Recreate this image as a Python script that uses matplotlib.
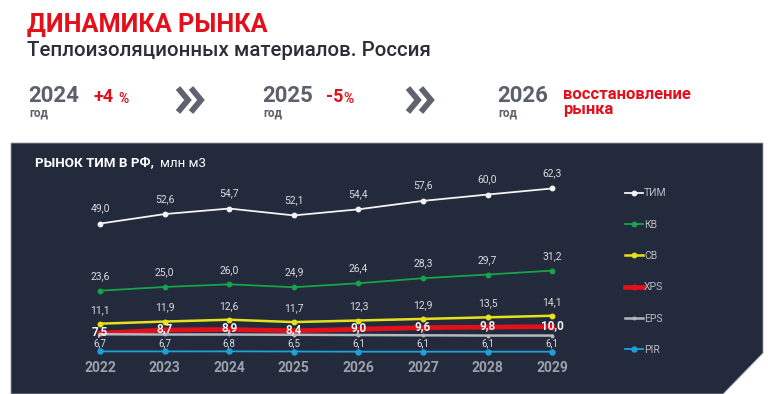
import matplotlib
matplotlib.use("Agg")
import matplotlib.pyplot as plt
from matplotlib.lines import Line2D
from matplotlib.patches import Polygon

plt.rcParams['font.family'] = ['Roboto', 'DejaVu Sans']

# ------------------------------------------------------------------
# data
# ------------------------------------------------------------------
years = [2022, 2023, 2024, 2025, 2026, 2027, 2028, 2029]
tim = [49.0, 52.6, 54.7, 52.1, 54.4, 57.6, 60.0, 62.3]
kv = [23.6, 25.0, 26.0, 24.9, 26.4, 28.3, 29.7, 31.2]
sv = [11.1, 11.9, 12.6, 11.7, 12.3, 12.9, 13.5, 14.1]
xps = [7.5, 8.7, 8.9, 8.4, 9.0, 9.6, 9.8, 10.0]
eps = [7.1, 7.0, 7.0, 6.9, 6.8, 6.7, 6.6, 6.6]     # labels hidden in source
pir = [6.7, 6.7, 6.8, 6.5, 6.1, 6.1, 6.1, 6.1]     # secondary axis

series_names = ['ТИМ', 'КВ', 'СВ', 'XPS', 'EPS', 'PIR']

header_years = ['2024', '2025', '2026']
header_changes = ['+4%', '-5%', 'восстановление\nрынка']

W, H = 768, 394
BG = '#222a3b'
RED = '#e3101b'
GREY_TXT = '#5b606b'


def px(x, y):
    """pixel (from top-left) -> figure fraction"""
    return x / W, 1 - y / H


fig = plt.figure(figsize=(W / 100, H / 100), dpi=100)
fig.patch.set_facecolor('white')

# ------------------------------------------------------------------
# header
# ------------------------------------------------------------------
fig.text(*px(27, 25), 'ДИНАМИКА РЫНКА', color=RED, fontsize=18.2,
         fontweight='bold', va='center', ha='left')
fig.text(*px(27, 51), 'Теплоизоляционных материалов. Россия',
         color='#2b2e38', fontsize=14.8, fontweight='medium',
         va='center', ha='left')

year_x = [28, 262, 497]
chg_x = [93, 326, 563]
for yx, cx, yr, chg in zip(year_x, chg_x, header_years, header_changes):
    fig.text(*px(yx, 96), yr, color=GREY_TXT, fontsize=16,
             fontweight='bold', va='center', ha='left')
    fig.text(*px(yx + 1, 113), 'год', color=GREY_TXT, fontsize=8.5,
             fontweight='bold', va='center', ha='left')
    if '\n' in chg:
        fig.text(*px(cx, 102), chg, color=RED, fontsize=12,
                 fontweight='bold', va='center', ha='left', linespacing=0.95)
    else:
        fig.text(*px(cx, 97), chg[:-1], color=RED, fontsize=13,
                 fontweight='bold', va='center', ha='left')
        off = 25 if chg.startswith('+') else 17
        fig.text(*px(cx + off, 99), '%', color=RED, fontsize=10,
                 fontweight='bold', va='center', ha='left')

# chevrons
for x0 in (178, 408):
    for dx in (0, 13):
        xs = [x0 + dx, x0 + dx + 10, x0 + dx]
        ys = [88, 100, 112]
        fx = [px(a, b)[0] for a, b in zip(xs, ys)]
        fy = [px(a, b)[1] for a, b in zip(xs, ys)]
        fig.add_artist(Line2D(fx, fy, color='#5e636e', lw=4.2,
                              solid_joinstyle='miter', solid_capstyle='butt'))

# ------------------------------------------------------------------
# dark panel with cut corner
# ------------------------------------------------------------------
corners = [(11, 143), (763, 143), (763, 353), (723, 394), (11, 394)]
panel = Polygon([px(a, b) for a, b in corners], closed=True,
                transform=fig.transFigure, facecolor=BG,
                edgecolor='#9aa0aa', lw=0.6, zorder=0)
fig.add_artist(panel)

fig.text(*px(35, 163), 'РЫНОК ТИМ В РФ,', color='white', fontsize=9.6,
         fontweight='bold', va='center', ha='left')
fig.text(*px(160, 163), 'млн м3', color='white', fontsize=9.6,
         va='center', ha='left')

# ------------------------------------------------------------------
# chart
# ------------------------------------------------------------------
left, right, top, bottom = 60, 600, 175, 358
ax = fig.add_axes([left / W, 1 - bottom / H, (right - left) / W, (bottom - top) / H])
ax.set_facecolor('none')
ax.set_xlim(2021.38, 2029.74)
ax.set_ylim(-1.9, 67.4)
for s in ax.spines.values():
    s.set_visible(False)
ax.set_yticks([])
ax.set_xticks(years)
ax.set_xticklabels([str(y) for y in years], color='#9ca1ab',
                   fontsize=10, fontweight='bold')
ax.tick_params(axis='x', length=0, pad=2.5)

ax2 = ax.twinx()
ax2.set_ylim(-7.7, 392.3)
ax2.set_axis_off()

styles = [
    (ax, tim, '#f2f2f2', 1.3, 3.2),
    (ax, kv, '#17a34a', 1.3, 3.2),
    (ax, sv, '#e6e11a', 1.8, 3.2),
    (ax, xps, '#e3101b', 3.4, 3.4),
    (ax, eps, '#b4b8c0', 1.8, 1.8),
    (ax2, pir, '#1ea0d8', 1.3, 3.6),
]
handles = []
for (a, vals, col, lw, ms), name in zip(styles, series_names):
    ln, = a.plot(years, vals, color=col, lw=lw, marker='o', ms=ms,
                 mec=col, label=name, zorder=3)
    handles.append(ln)

lab_col = '#d8dbe0'
for vals, dy in ((tim, 11), (kv, 10.5), (sv, 10)):
    for x, v in zip(years, vals):
        ax.annotate(f'{v:.1f}'.replace('.', ','), (x, v), xytext=(0, dy),
                    textcoords='offset points', ha='center', va='center',
                    color=lab_col, fontsize=7.5)
for x, v in zip(years, xps):
    ax.annotate(f'{v:.1f}'.replace('.', ','), (x, v), xytext=(0, 1.0),
                textcoords='offset points', ha='center', va='center',
                color='#f4f4f4', fontsize=8.5, fontweight='bold', zorder=5)
for x, v in zip(years, pir):
    ax2.annotate(f'{v:.1f}'.replace('.', ','), (x, v), xytext=(0, 6.0),
                 textcoords='offset points', ha='center', va='center',
                 color=lab_col, fontsize=7.0)

leg = fig.legend(handles=handles, loc='upper left',
                 bbox_to_anchor=px(620, 183), frameon=False,
                 fontsize=7.5, labelcolor='#b9bdc5', handlelength=1.7,
                 handletextpad=0.1, labelspacing=2.05, borderpad=0)

fig.savefig('out.png', dpi=100, facecolor=fig.get_facecolor())
